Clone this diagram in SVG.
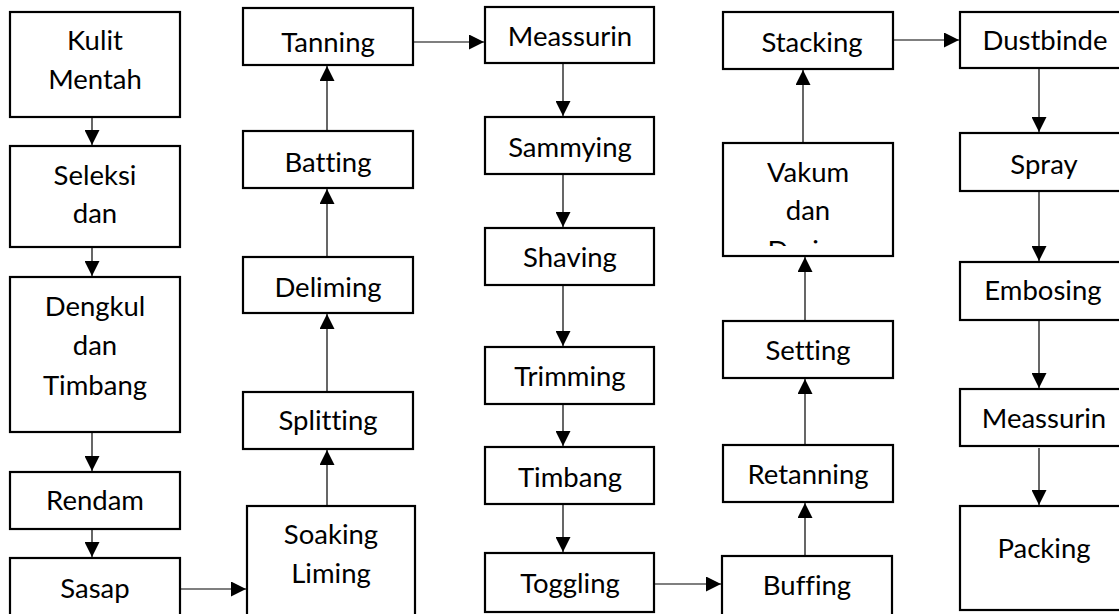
<svg xmlns="http://www.w3.org/2000/svg" width="1119" height="614" viewBox="0 0 1119 614">
<style>
.b{fill:#fff;stroke:#000;stroke-width:2.2}
.t{font-family:Lato,"Open Sans","Liberation Sans",sans-serif;font-size:27.5px;fill:#000;text-anchor:middle;font-variant-ligatures:none}
.c{stroke:#000;stroke-width:1.2;fill:none;marker-end:url(#ah)}
</style>
<defs>
<marker id="ah" markerUnits="userSpaceOnUse" markerWidth="15" markerHeight="15" refX="15" refY="7.5" orient="auto"><path d="M0,0 L15,7.5 L0,15 z" fill="#000"/></marker>
<clipPath id="vk"><rect x="723" y="143" width="170" height="103"/></clipPath>
</defs>
<rect width="1119" height="614" fill="#fff"/>
<g id="connectors">
<line class="c" x1="92" y1="118" x2="92" y2="145"/>
<line class="c" x1="92" y1="248" x2="92" y2="276"/>
<line class="c" x1="92" y1="433" x2="92" y2="471"/>
<line class="c" x1="92" y1="530" x2="92" y2="557"/>
<line class="c" x1="181" y1="589" x2="246" y2="589"/>
<line class="c" x1="327" y1="505" x2="327" y2="450"/>
<line class="c" x1="327" y1="391" x2="327" y2="314"/>
<line class="c" x1="327" y1="256" x2="327" y2="189"/>
<line class="c" x1="327" y1="130" x2="327" y2="66"/>
<line class="c" x1="414" y1="42" x2="484" y2="42"/>
<line class="c" x1="563" y1="64" x2="563" y2="116"/>
<line class="c" x1="563" y1="175" x2="563" y2="227"/>
<line class="c" x1="563" y1="286" x2="563" y2="346"/>
<line class="c" x1="563" y1="405" x2="563" y2="446"/>
<line class="c" x1="563" y1="505" x2="563" y2="552"/>
<line class="c" x1="655" y1="584" x2="721" y2="584"/>
<line class="c" x1="805" y1="555" x2="805" y2="503"/>
<line class="c" x1="805" y1="444" x2="805" y2="379"/>
<line class="c" x1="805" y1="320" x2="805" y2="257"/>
<line class="c" x1="803" y1="142" x2="803" y2="70"/>
<line class="c" x1="894" y1="40" x2="959" y2="40"/>
<line class="c" x1="1039" y1="69" x2="1039" y2="132"/>
<line class="c" x1="1039" y1="192" x2="1039" y2="261"/>
<line class="c" x1="1039" y1="321" x2="1039" y2="388"/>
<line class="c" x1="1039" y1="448" x2="1039" y2="505"/>
</g>
<g id="kulit"><rect class="b" x="10" y="12" width="170" height="105"/><text class="t" x="95" y="50">Kulit</text><text class="t" x="95" y="89">Mentah</text></g>
<g id="seleksi"><rect class="b" x="10" y="146" width="170" height="101"/><text class="t" x="95" y="185">Seleksi</text><text class="t" x="95" y="223">dan</text></g>
<g id="dengkul"><rect class="b" x="10" y="277" width="170" height="155"/><text class="t" x="95" y="316">Dengkul</text><text class="t" x="95" y="355">dan</text><text class="t" x="95" y="395">Timbang</text></g>
<g id="rendam"><rect class="b" x="10" y="472" width="170" height="57"/><text class="t" x="95" y="510">Rendam</text></g>
<g id="sasap"><rect class="b" x="10" y="558" width="170" height="80"/><text class="t" x="95" y="598">Sasap</text></g>
<g id="tanning"><rect class="b" x="243" y="8" width="170" height="57"/><text class="t" x="328" y="52">Tanning</text></g>
<g id="batting"><rect class="b" x="243" y="131" width="170" height="57"/><text class="t" x="328" y="172">Batting</text></g>
<g id="deliming"><rect class="b" x="243" y="257" width="170" height="56"/><text class="t" x="328" y="297">Deliming</text></g>
<g id="splitting"><rect class="b" x="243" y="392" width="170" height="57"/><text class="t" x="328" y="430">Splitting</text></g>
<g id="soaking"><rect class="b" x="247" y="506" width="168" height="132"/><text class="t" x="331" y="544">Soaking</text><text class="t" x="331" y="583">Liming</text></g>
<g id="meassurin1"><rect class="b" x="485" y="7" width="169" height="56"/><text class="t" x="570" y="46">Meassurin</text></g>
<g id="sammying"><rect class="b" x="485" y="117" width="169" height="57"/><text class="t" x="570" y="157">Sammying</text></g>
<g id="shaving"><rect class="b" x="485" y="228" width="169" height="57"/><text class="t" x="570" y="267">Shaving</text></g>
<g id="trimming"><rect class="b" x="485" y="347" width="169" height="57"/><text class="t" x="570" y="386">Trimming</text></g>
<g id="timbang"><rect class="b" x="485" y="447" width="169" height="57"/><text class="t" x="570" y="487">Timbang</text></g>
<g id="toggling"><rect class="b" x="485" y="553" width="169" height="59"/><text class="t" x="570" y="593">Toggling</text></g>
<g id="stacking"><rect class="b" x="723" y="12" width="170" height="57"/><text class="t" x="812" y="52">Stacking</text></g>
<g id="vakum"><rect class="b" x="723" y="143" width="170" height="113"/><text class="t" x="808" y="182">Vakum</text><text class="t" x="808" y="220">dan</text><text class="t" x="808" y="260" clip-path="url(#vk)">Drying</text></g>
<g id="setting"><rect class="b" x="723" y="321" width="170" height="57"/><text class="t" x="808" y="360">Setting</text></g>
<g id="retanning"><rect class="b" x="723" y="445" width="170" height="57"/><text class="t" x="808" y="484">Retanning</text></g>
<g id="buffing"><rect class="b" x="722" y="556" width="170" height="82"/><text class="t" x="807" y="595">Buffing</text></g>
<g id="dustbinde"><rect class="b" x="960" y="12" width="180" height="56"/><text class="t" x="1045" y="50">Dustbinde</text></g>
<g id="spray"><rect class="b" x="960" y="133" width="180" height="58"/><text class="t" x="1044" y="174">Spray</text></g>
<g id="embosing"><rect class="b" x="960" y="262" width="180" height="58"/><text class="t" x="1043" y="300">Embosing</text></g>
<g id="meassurin2"><rect class="b" x="960" y="389" width="180" height="57"/><text class="t" x="1044" y="428">Meassurin</text></g>
<g id="packing"><rect class="b" x="960" y="506" width="180" height="104"/><text class="t" x="1044" y="558">Packing</text></g>
</svg>
